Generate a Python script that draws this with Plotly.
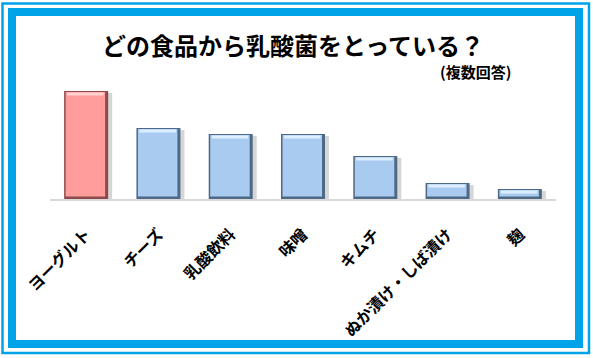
import plotly.graph_objects as go

categories = ["ヨーグルト", "チーズ", "乳酸飲料", "味噌", "キムチ", "ぬか漬け・しば漬け", "麹"]
values = [54, 35.5, 32.5, 32.5, 21.5, 8, 5]
title_text = "どの食品から乳酸菌をとっている？"
subtitle_text = "(複数回答)"

face_colors = ["#ff9d9d"] + ["#a8cbef"] * 6
edge_colors = ["#8c4a4a"] + ["#4e6985"] * 6
hi_colors = ["#ffd0d0"] + ["#ddeeff"] * 6

W, H = 593, 358
L, R, T, B = 50, 37, 80, 159
pw, ph = W - L - R, H - T - B
ymax = 59.5
upx = ymax / ph          # value units per pixel
cpx = 1.0 / (pw / len(categories))  # category units per pixel

bw = 44 * cpx
fig = go.Figure()
# shadow
fig.add_trace(go.Bar(x=categories, y=[v - 0.5 * upx for v in values], base=[-1.5 * upx] * len(values),
                     width=bw, offset=-bw / 2 + 4 * cpx,
                     marker=dict(color="rgba(90,90,90,0.25)", line=dict(width=0)), hoverinfo="skip"))
# edge
fig.add_trace(go.Bar(x=categories, y=values, width=bw, offset=-bw / 2,
                     marker=dict(color=edge_colors, line=dict(width=0)), hoverinfo="skip"))
# face
fw = bw - 4.5 * cpx
fig.add_trace(go.Bar(x=categories, y=[v - 3.5 * upx for v in values], base=[2.5 * upx] * len(values),
                     width=fw, offset=-bw / 2 + 1.5 * cpx,
                     marker=dict(color=face_colors, line=dict(width=0)), hoverinfo="skip"))
# top highlight
fig.add_trace(go.Bar(x=categories, y=[3 * upx] * len(values), base=[v - 4.5 * upx for v in values],
                     width=fw - 3 * cpx, offset=-bw / 2 + 3 * cpx,
                     marker=dict(color=hi_colors, line=dict(width=0)), hoverinfo="skip"))

def px_x(p):
    return (p - L) / pw

def px_y(p):
    return (H - B - p) / ph

shapes = [
    dict(type="rect", xref="paper", yref="paper", x0=px_x(12), x1=px_x(579), y0=px_y(344), y1=px_y(12),
         line=dict(color="#00a2e8", width=8)),
    dict(type="rect", xref="paper", yref="paper", x0=px_x(2.5), x1=px_x(589), y0=px_y(353), y1=px_y(3.5),
         line=dict(color="#00a2e8", width=2.5)),
]

annotations = [
    dict(text=title_text, xref="paper", yref="paper", x=px_x(293), y=px_y(45), xanchor="center", yanchor="middle",
         showarrow=False, font=dict(size=24, color="black", family="Noto Sans CJK JP", weight="bold")),
    dict(text=subtitle_text, xref="paper", yref="paper", x=px_x(475), y=px_y(71), xanchor="center", yanchor="middle",
         showarrow=False, font=dict(size=15, color="black", family="Noto Sans CJK JP", weight="bold")),
]

fig.update_layout(
    width=W, height=H, margin=dict(l=L, r=R, t=T, b=B),
    paper_bgcolor="white", plot_bgcolor="white",
    barmode="overlay", showlegend=False,
    shapes=shapes, annotations=annotations,
    font=dict(family="Noto Sans CJK JP"),
    xaxis=dict(showline=True, linecolor="#d9d9d9", linewidth=1.5, tickangle=-45, ticks="",
               ticklabelstandoff=18, showgrid=False,
               tickfont=dict(size=16, color="black", family="Noto Sans CJK JP", weight="bold")),
    yaxis=dict(range=[0, ymax], visible=False, showgrid=False),
)

fig.write_html("out.html", config={"displayModeBar": False},
               post_script="document.body.style.margin='0';")
